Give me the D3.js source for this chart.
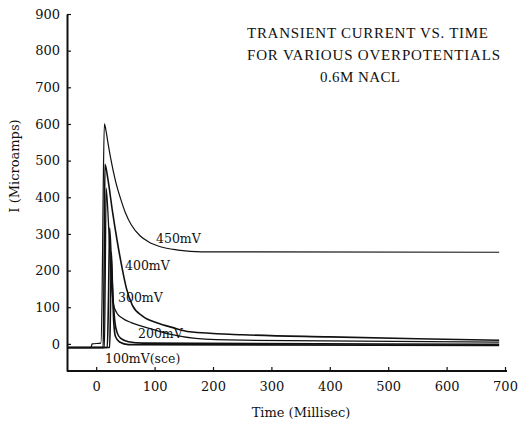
<!DOCTYPE html>
<html>
<head>
<meta charset="utf-8">
<script src="https://cdn.jsdelivr.net/npm/d3@7"></script>
<style>
  body { margin: 0; background: #fff; }
  svg { display: block; }
  .tick text { font-family: "DejaVu Serif", serif; font-size: 13px; fill: #111; }
  .lbl { font-family: "DejaVu Serif", serif; font-size: 12.5px; fill: #111; }
  .title { font-family: "Liberation Serif", serif; font-size: 15px; fill: #111; }
</style>
</head>
<body>
<div id="chart"></div>
<script>
// tick values
var xTicks = [0, 100, 200, 300, 400, 500, 600, 700];
var yTicks = [0, 100, 200, 300, 400, 500, 600, 700, 800, 900];

// time (ms) and current (microamps) for each overpotential
var t450 = [-50, -9, -7, 8, 10, 12, 14, 17, 20, 25, 33, 42, 50, 60, 75, 90, 110, 140, 180, 690];
var i450 = [-10, -10, 0, 2, 120, 420, 600, 580, 550, 505, 445, 395, 358, 325, 295, 278, 265, 256, 251, 250];

var t400 = [-50, 12, 13.5, 15, 20, 28, 36, 44, 52, 62, 80, 105, 130, 160, 250, 400, 550, 690];
var i400 = [-10, -10, 200, 490, 450, 360, 280, 210, 150, 105, 75, 57, 45, 33, 25, 19, 14, 10];

var t300 = [-50, 14, 15.5, 17, 21, 25, 29, 35, 45, 60, 75, 100, 130, 170, 250, 690];
var i300 = [-10, -10, 180, 425, 330, 200, 112, 85, 70, 58, 50, 38, 25, 15, 10, 5];

var t200 = [-50, 19, 21, 23, 26, 29, 32, 36, 42, 55, 80, 690];
var i200 = [-10, -10, 120, 316, 220, 120, 60, 30, 15, 6, 2, -1];

var t100 = [-50, 23, 24.5, 26, 28, 30, 33, 40, 55, 690];
var i100 = [-10, -10, 100, 250, 150, 60, 20, 5, -2, -4];

var width = 528, height = 422;
var svg = d3.select('#chart').append('svg')
  .attr('width', width)
  .attr('height', height);

var x = d3.scaleLinear().domain([-50, 700]).range([67, 505]);
var y = d3.scaleLinear().domain([-74, 900]).range([371, 14]);

// axes, ticks point inward
var xAxis = svg.append('g')
  .attr('transform', 'translate(0,' + y(-74) + ')')
  .call(d3.axisBottom(x).tickValues(xTicks).tickSizeInner(-4).tickSizeOuter(0).tickPadding(11));
xAxis.select('.domain').attr('stroke', '#111').attr('stroke-width', 2).attr('d', 'M67,0H507');

var yAxis = svg.append('g')
  .attr('transform', 'translate(' + x(-50) + ',0)')
  .call(d3.axisLeft(y).tickValues(yTicks).tickSizeInner(-4).tickSizeOuter(0).tickPadding(7));
yAxis.select('.domain').attr('stroke', '#111').attr('stroke-width', 2);
svg.selectAll('.tick line').attr('stroke', '#111').attr('stroke-width', 1.2);

// curves
var series = [
  { t: t450, v: i450, w: 1.2 },
  { t: t400, v: i400, w: 1.6 },
  { t: t300, v: i300, w: 1.3 },
  { t: t200, v: i200, w: 1.6 },
  { t: t100, v: i100, w: 1.6 }
];

var line = d3.line()
  .x(function(d) { return x(d[0]); })
  .y(function(d) { return y(d[1]); })
  .curve(d3.curveMonotoneX);

series.forEach(function(s) {
  svg.append('path')
    .datum(d3.zip(s.t, s.v))
    .attr('fill', 'none')
    .attr('stroke', '#111')
    .attr('stroke-width', s.w)
    .attr('d', line);
});

// curve labels
var labels = [
  { text: '450mV', x: 156, y: 243 },
  { text: '400mV', x: 125, y: 270 },
  { text: '300mV', x: 118, y: 302 },
  { text: '200mV', x: 138, y: 338 },
  { text: '100mV(sce)', x: 105, y: 363 }
];
svg.selectAll('.lbl').data(labels).enter().append('text')
  .attr('class', 'lbl')
  .attr('x', function(d) { return d.x; })
  .attr('y', function(d) { return d.y; })
  .text(function(d) { return d.text; });

// title block
var titles = [
  { text: 'TRANSIENT CURRENT VS. TIME', x: 247, y: 38, w: 241 },
  { text: 'FOR VARIOUS OVERPOTENTIALS', x: 247, y: 60, w: 253 },
  { text: '0.6M NACL', x: 320, y: 82, w: 80 }
];
svg.selectAll('.title').data(titles).enter().append('text')
  .attr('class', 'title')
  .attr('x', function(d) { return d.x; })
  .attr('y', function(d) { return d.y; })
  .attr('textLength', function(d) { return d.w; })
  .attr('lengthAdjust', 'spacing')
  .text(function(d) { return d.text; });

svg.append('text')
  .attr('class', 'lbl')
  .attr('x', 301)
  .attr('y', 417)
  .attr('text-anchor', 'middle')
  .style('font-size', '13px')
  .text('Time (Millisec)');

svg.append('text')
  .attr('class', 'lbl')
  .attr('transform', 'translate(19,166) rotate(-90)')
  .attr('text-anchor', 'middle')
  .style('font-size', '13px')
  .text('I (Microamps)');
</script>
</body>
</html>
